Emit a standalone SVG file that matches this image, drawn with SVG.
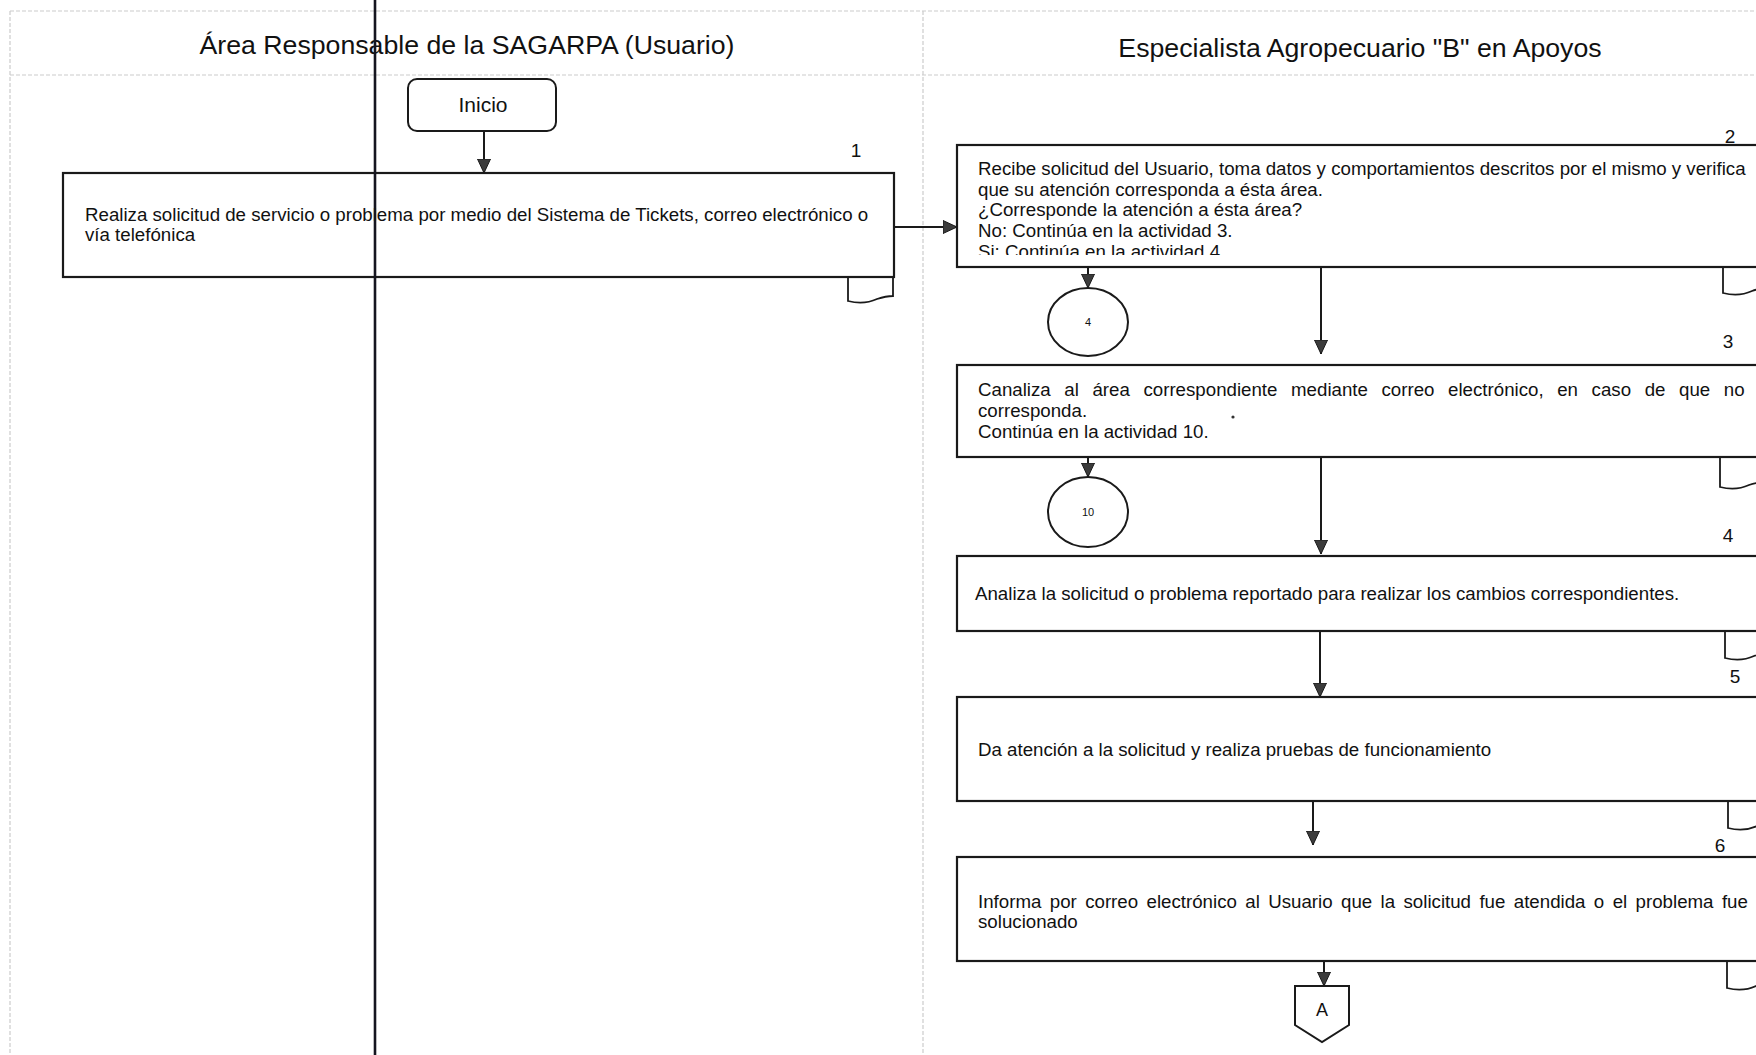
<svg xmlns="http://www.w3.org/2000/svg" width="1756" height="1055" viewBox="0 0 1756 1055">
  <style>
    text { font-family: "Liberation Sans", Arial, sans-serif; fill: #111111; }
    .title { font-size: 26.7px; text-anchor: middle; }
    .task { font-size: 18.7px; }
    .num { font-size: 19px; text-anchor: middle; }
    .small { font-size: 11px; text-anchor: middle; }
    .box { fill: #ffffff; stroke: #1a1a1a; stroke-width: 2.2; }
    .shape { fill: #ffffff; stroke: #1a1a1a; stroke-width: 2; }
    .fold { fill: #ffffff; stroke: #1a1a1a; stroke-width: 1.8; }
    .grid { stroke: #cccccc; stroke-width: 1.2; stroke-dasharray: 4 2; fill: none; }
    .flow { stroke: #1a1a1a; stroke-width: 2; fill: none; marker-end: url(#arrow); }
  </style>
  <defs>
    <marker id="arrow" markerUnits="userSpaceOnUse" viewBox="0 0 14 14" refX="14" refY="7" markerWidth="14" markerHeight="14" orient="auto">
      <path d="M0,0.5 L14,7 L0,13.5 Z" fill="#3c3c3c" stroke="#1a1a1a" stroke-width="1"/>
    </marker>
    <clipPath id="clip2">
      <rect x="957" y="145" width="820" height="110"/>
    </clipPath>
  </defs>

  <rect width="1756" height="1055" fill="#ffffff"/>

  <!-- swimlane frame -->
  <g id="lanes">
    <line class="grid" x1="10" y1="11" x2="1756" y2="11"/>
    <line class="grid" x1="10" y1="75" x2="1756" y2="75"/>
    <line class="grid" x1="10" y1="11" x2="10" y2="1055"/>
    <line class="grid" x1="923" y1="11" x2="923" y2="1055"/>
    <text class="title" x="467" y="54">Área Responsable de la SAGARPA (Usuario)</text>
    <text class="title" x="1360" y="57">Especialista Agropecuario "B" en Apoyos</text>
  </g>

  <!-- connectors -->
  <g id="connectors">
    <line class="flow" x1="484" y1="131" x2="484" y2="173"/>
    <line class="flow" x1="894" y1="227" x2="957" y2="227"/>
    <line class="flow" x1="1088" y1="267" x2="1088" y2="288"/>
    <line class="flow" x1="1321" y1="267" x2="1321" y2="354"/>
    <line class="flow" x1="1088" y1="457" x2="1088" y2="477"/>
    <line class="flow" x1="1321" y1="457" x2="1321" y2="554"/>
    <line class="flow" x1="1320" y1="631" x2="1320" y2="697"/>
    <line class="flow" x1="1313" y1="801" x2="1313" y2="845"/>
    <line class="flow" x1="1324" y1="961" x2="1324" y2="986"/>
  </g>

  <g id="inicio">
    <rect class="shape" x="408" y="79" width="148" height="52" rx="9"/>
    <text x="483" y="112" style="font-size:21px;text-anchor:middle">Inicio</text>
  </g>

  <g id="act1">
    <path class="fold" d="M848,277 L848,301 Q864,305 877,299 Q886,296 893,296 L893,277"/>
    <rect class="box" x="63" y="173" width="831" height="104"/>
    <text class="num" x="856" y="157">1</text>
    <text class="task" x="85" y="221">Realiza solicitud de servicio o problema por medio del Sistema de Tickets, correo electrónico o</text>
    <text class="task" x="85" y="241">vía telefónica</text>
  </g>

  <g id="act2">
    <path class="fold" d="M1723,267 L1723,293 Q1739,297 1752,291 Q1761,288 1768,288 L1768,267"/>
    <rect class="box" x="957" y="145" width="820" height="122"/>
    <text class="num" x="1730" y="143">2</text>
    <g clip-path="url(#clip2)">
      <text class="task" x="978" y="175">Recibe solicitud del Usuario, toma datos y comportamientos descritos por el mismo y verifica</text>
      <text class="task" x="978" y="195.5">que su atención corresponda a ésta área.</text>
      <text class="task" x="978" y="216">¿Corresponde la atención a ésta área?</text>
      <text class="task" x="978" y="236.5">No: Continúa en la actividad 3.</text>
      <text class="task" x="978" y="258">Si: Continúa en la actividad 4</text>
    </g>
  </g>

  <g id="conn4">
    <ellipse class="shape" cx="1088" cy="322" rx="40" ry="34"/>
    <text class="small" x="1088" y="326">4</text>
  </g>

  <g id="act3">
    <path class="fold" d="M1720,457 L1720,487 Q1736,491 1749,485 Q1758,482 1765,482 L1765,457"/>
    <rect class="box" x="957" y="365" width="820" height="92"/>
    <text class="num" x="1728" y="348">3</text>
    <text class="task" x="978" y="396" word-spacing="8.4">Canaliza al área correspondiente mediante correo electrónico, en caso de que no</text>
    <text class="task" x="978" y="417">corresponda.</text>
    <text class="task" x="978" y="438">Continúa en la actividad 10.</text>
    <circle cx="1233" cy="417" r="1.6" fill="#333333"/>
  </g>

  <g id="conn10">
    <ellipse class="shape" cx="1088" cy="512" rx="40" ry="35"/>
    <text class="small" x="1088" y="516">10</text>
  </g>

  <g id="act4">
    <path class="fold" d="M1725,631 L1725,658 Q1741,662 1754,656 Q1763,653 1770,653 L1770,631"/>
    <rect class="box" x="957" y="556" width="820" height="75"/>
    <text class="num" x="1728" y="542">4</text>
    <text class="task" x="975" y="600">Analiza la solicitud o problema reportado para realizar los cambios correspondientes.</text>
  </g>

  <g id="act5">
    <path class="fold" d="M1728,801 L1728,828 Q1744,832 1757,826 Q1766,823 1773,823 L1773,801"/>
    <rect class="box" x="957" y="697" width="820" height="104"/>
    <text class="num" x="1735" y="683">5</text>
    <text class="task" x="978" y="756">Da atención a la solicitud y realiza pruebas de funcionamiento</text>
  </g>

  <g id="act6">
    <path class="fold" d="M1727,961 L1727,988 Q1743,992 1756,986 Q1765,983 1772,983 L1772,961"/>
    <rect class="box" x="957" y="857" width="820" height="104"/>
    <text class="num" x="1720" y="852">6</text>
    <text class="task" x="978" y="908" word-spacing="3.2">Informa por correo electrónico al Usuario que la solicitud fue atendida o el problema fue</text>
    <text class="task" x="978" y="928">solucionado</text>
  </g>

  <g id="connA">
    <path class="shape" d="M1295,986 H1349 V1025 L1322,1042 L1295,1025 Z"/>
    <text x="1322" y="1016" style="font-size:18px;text-anchor:middle">A</text>
  </g>

  <!-- vertical rule across the user lane -->
  <line x1="375" y1="0" x2="375" y2="1055" stroke="#15151f" stroke-width="2.6"/>
</svg>
